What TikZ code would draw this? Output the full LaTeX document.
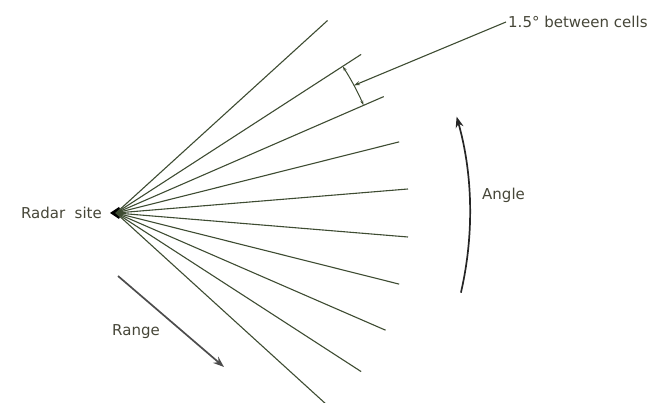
\documentclass[tikz,border=0pt]{standalone}
\usepackage{fontspec}
\setmainfont{DejaVu Sans}
\usetikzlibrary{arrows.meta, positioning, calc}
\definecolor{raygreen}{RGB}{62,76,50}
\definecolor{inkgray}{RGB}{70,70,56}

\begin{document}
\begin{tikzpicture}[x=1pt, y=1pt, >=Stealth]
        % Style definitions
        \tikzstyle{beam} = [draw=raygreen, line width=1.1pt]
        \tikzstyle{lbl} = [text=inkgray, font=\fontsize{15}{18}\selectfont, inner sep=2pt]
        \tikzstyle{pointer} = [draw=raygreen, line width=1.1pt, -{Stealth[length=6pt, width=4pt]}]
        \tikzstyle{bigarrow} = [draw=black!70, line width=1.7pt, -{Stealth[length=11pt, width=8pt]}]

        \useasboundingbox (0,0) rectangle (671,403);

        % Radar site and beams
        \coordinate (site) at (116,190);
        \fill[black] ($(site)+(-6,0)$) -- ++(9,6) -- ++(3,-6) -- ++(-3,-6) -- cycle;
        \node [lbl, anchor=east] (sitelbl) at (104,190) {Radar\ \ site};
        \foreach \a/\r/\n in {42.3/286/1, 32.9/292/2, 23.5/292/3, 14.1/292/4, 4.7/293/5,
                -4.7/293/6, -14.1/292/7, -23.5/294/8, -32.9/292/9, -42.3/284/10} {
            \coordinate (b\n) at ($(site)+(\a:\r)$);
            \draw [beam] (site) -- (b\n);
        }

        % Cell spacing
        \coordinate (d1) at ($(site)+(32.9:270)$);
        \coordinate (dmid) at ($(site)+(28.2:270)$);
        \draw [draw=raygreen, line width=1pt, {Stealth[length=5pt, width=3pt]}-{Stealth[length=5pt, width=3pt]}]
            (d1) arc [start angle=32.9, end angle=23.5, radius=270];
        \node [lbl, anchor=west] (cells) at (506,381) {1.5°\ between cells};
        \draw [pointer] (cells.west) -- (dmid);

        % Angle
        \coordinate (a1) at ($(site)+(-13:354)$);
        \draw [bigarrow, draw=black!85] (a1) arc [start angle=-13, end angle=15.8, radius=354];
        \node [lbl, anchor=west] (anglelbl) at (480,208) {Angle};

        % Range
        \coordinate (r1) at (118,127);
        \coordinate (r2) at (224,36);
        \draw [bigarrow] (r1) -- (r2);
        \node [lbl, anchor=west] (rangelbl) at (110,71) {Range};
    \end{tikzpicture}
\end{document}
